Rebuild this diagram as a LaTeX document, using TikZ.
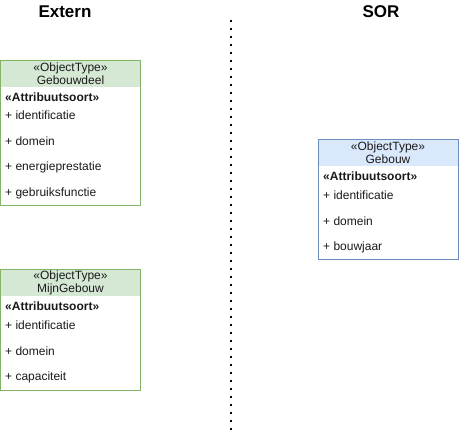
\documentclass[tikz,border=0pt]{standalone}
\usepackage{fontspec}
\setmainfont{Liberation Sans}
\usepackage{xcolor}
\usetikzlibrary{positioning}
\definecolor{umlGroenVul}{HTML}{D5E8D4}
\definecolor{umlGroenRand}{HTML}{82B366}
\definecolor{umlBlauwVul}{HTML}{DAE8FC}
\definecolor{umlBlauwRand}{HTML}{6C8EBF}
\definecolor{umlTekst}{HTML}{1A1A1A}

\begin{document}
\begin{tikzpicture}[x=1pt,y=-1pt,font=\fontsize{12}{13}\selectfont,text=umlTekst]
  \tikzset{kopvak/.style={rectangle,minimum width=140pt,minimum height=26pt,inner sep=0pt,align=center,draw=none},
    klassevak/.style={rectangle,minimum width=140pt,inner sep=0pt,line width=1pt,fill=none},
    attr/.style={anchor=west,inner sep=0pt},
    titel/.style={font=\fontsize{17}{19}\selectfont\bfseries,text=black},
    scheiding/.style={line width=2pt,dash pattern=on 2pt off 6pt,black}}
  \useasboundingbox (0,0) rectangle (459,433);
  % kolomtitels
  \node[titel] (extern) at (65,12) {Extern};
  \node[titel] (sor) at (381,12) {SOR};
  % scheidingslijn
  \coordinate (scheidBoven) at (230.5,20);
  \coordinate (scheidOnder) at (230.5,430);
  \draw[scheiding] (scheidBoven) -- (scheidOnder);
  % Gebouwdeel
  \node[kopvak,fill=umlGroenVul] (gebouwdeelKop) at (70.5,74) {«ObjectType»\\Gebouwdeel};
  \node[klassevak,draw=umlGroenRand,minimum height=145pt] (gebouwdeel) at (70.5,133.5) {};
  \node[attr,font=\fontsize{12}{13}\selectfont\bfseries] (gebouwdeelSt) at (5,97.5) {«Attribuutsoort»};
  \node[attr] (gebouwdeelA1) at (5,115.5) {+ identificatie};
  \node[attr] (gebouwdeelA2) at (5,141.5) {+ domein};
  \node[attr] (gebouwdeelA3) at (5,167.5) {+ energieprestatie};
  \node[attr] (gebouwdeelA4) at (5,193.5) {+ gebruiksfunctie};
  % MijnGebouw
  \node[kopvak,fill=umlGroenVul] (mijnGebouwKop) at (70.5,283) {«ObjectType»\\MijnGebouw};
  \node[klassevak,draw=umlGroenRand,minimum height=121pt] (mijnGebouw) at (70.5,330.5) {};
  \node[attr,font=\fontsize{12}{13}\selectfont\bfseries] (mijnGebouwSt) at (5,306.5) {«Attribuutsoort»};
  \node[attr] (mijnGebouwA1) at (5,325.5) {+ identificatie};
  \node[attr] (mijnGebouwA2) at (5,351.5) {+ domein};
  \node[attr] (mijnGebouwA3) at (5,377.5) {+ capaciteit};
  % Gebouw
  \node[kopvak,fill=umlBlauwVul] (gebouwKop) at (388,153) {«ObjectType»\\Gebouw};
  \node[klassevak,draw=umlBlauwRand,minimum height=120pt] (gebouw) at (388,200) {};
  \node[attr,font=\fontsize{12}{13}\selectfont\bfseries] (gebouwSt) at (323,176.5) {«Attribuutsoort»};
  \node[attr] (gebouwA1) at (323,195.5) {+ identificatie};
  \node[attr] (gebouwA2) at (323,221.5) {+ domein};
  \node[attr] (gebouwA3) at (323,247.5) {+ bouwjaar};
\end{tikzpicture}
\end{document}
